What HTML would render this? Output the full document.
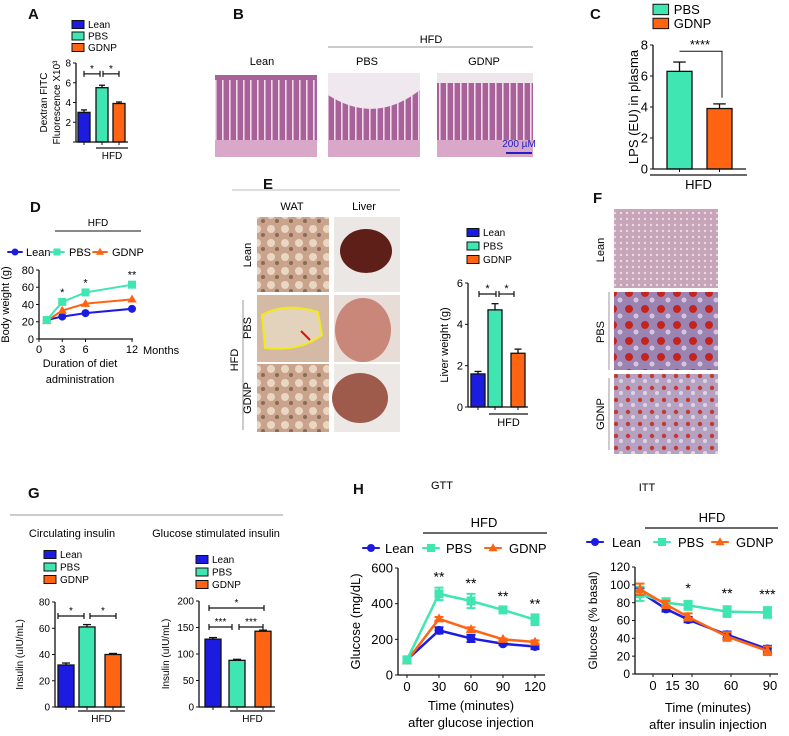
<!DOCTYPE html>
<html><head><meta charset="utf-8"><style>
body{margin:0;background:#fff}
svg{display:block;font-family:"Liberation Sans",Arial,sans-serif}
</style></head><body>
<svg id="fig" width="789" height="736" viewBox="0 0 789 736" xmlns="http://www.w3.org/2000/svg">
<defs>
<pattern id="villi" width="7" height="80" patternUnits="userSpaceOnUse"><rect width="7" height="80" fill="#a7629a"/><rect x="5" width="1.6" height="60" fill="#f1d8ea"/></pattern>
<pattern id="fat" width="14" height="14" patternUnits="userSpaceOnUse"><rect width="14" height="14" fill="#c9a38c"/><circle cx="5" cy="5" r="4" fill="#e9d7c3"/><circle cx="11" cy="11" r="2" fill="#8a6a58"/></pattern>
<pattern id="oro" width="16" height="16" patternUnits="userSpaceOnUse"><rect width="16" height="16" fill="#9b84b3"/><circle cx="5" cy="5" r="4" fill="#c5241d"/><circle cx="12" cy="12" r="2.5" fill="#d6c6dc"/></pattern>
<pattern id="oro2" width="12" height="12" patternUnits="userSpaceOnUse"><rect width="12" height="12" fill="#b5a2c2"/><circle cx="4" cy="4" r="2.2" fill="#c5382d"/><circle cx="9" cy="9" r="2" fill="#e0d4e4"/></pattern>
<pattern id="lv" width="6" height="6" patternUnits="userSpaceOnUse"><rect width="6" height="6" fill="#c7a5b9"/><circle cx="3" cy="3" r="1.2" fill="#ead8e2"/></pattern>
</defs>
<g font-weight="bold" font-size="15" fill="#111">
<text x="28" y="19">A</text><text x="233" y="19">B</text><text x="590" y="19">C</text>
<text x="30" y="212">D</text><text x="263" y="189">E</text><text x="593" y="203">F</text>
<text x="28" y="498">G</text><text x="353" y="494">H</text>
</g>
<g font-size="11">
<text x="431" y="43" text-anchor="middle">HFD</text>
<line x1="328" y1="47" x2="533" y2="47" stroke="#999" stroke-width="1"/>
<text x="262" y="65" text-anchor="middle">Lean</text><text x="367" y="65" text-anchor="middle">PBS</text><text x="484" y="65" text-anchor="middle">GDNP</text>
<rect x="215" y="75" width="102" height="82" fill="url(#villi)"/>
<rect x="215" y="140" width="102" height="17" fill="#d9a8c8"/>
<rect x="328" y="73" width="92" height="84" fill="url(#villi)"/>
<path d="M328 73 H420 V90 Q375 125 328 95 Z" fill="#efe8ee"/>
<rect x="328" y="140" width="92" height="17" fill="#d9a8c8"/>
<rect x="437" y="73" width="96" height="84" fill="url(#villi)"/>
<rect x="437" y="73" width="96" height="10" fill="#efe6ec"/>
<rect x="437" y="140" width="96" height="17" fill="#d9a8c8"/>
<text x="519" y="147" text-anchor="middle" fill="#2020c0" font-size="10">200 µM</text>
<line x1="506" y1="153" x2="532" y2="153" stroke="#2020c0" stroke-width="2"/>
</g>
<g font-size="11">
<line x1="232" y1="190" x2="400" y2="190" stroke="#bbb"/>
<text x="292" y="210" text-anchor="middle">WAT</text><text x="364" y="210" text-anchor="middle">Liver</text>
<rect x="257" y="217" width="72" height="75" fill="url(#fat)"/>
<rect x="334" y="217" width="66" height="75" fill="#ebe7e4"/><ellipse cx="366" cy="251" rx="26" ry="22" fill="#5e1f18"/>
<rect x="257" y="295" width="72" height="67" fill="#d4b9a4"/>
<path d="M262 315 Q285 302 318 312 L322 335 Q300 352 265 348 Z" fill="#e3d3bd" stroke="#f2ea18" stroke-width="2"/>
<line x1="310" y1="340" x2="301" y2="331" stroke="#e01010" stroke-width="2"/>
<rect x="334" y="295" width="66" height="67" fill="#e8dcd6"/><ellipse cx="363" cy="330" rx="28" ry="32" fill="#c9877a"/>
<rect x="257" y="364" width="72" height="68" fill="url(#fat)"/>
<rect x="334" y="364" width="66" height="68" fill="#ece8e6"/><ellipse cx="360" cy="398" rx="28" ry="25" fill="#9e5a4a"/>
<text transform="translate(251,255) rotate(-90)" text-anchor="middle">Lean</text>
<text transform="translate(251,328) rotate(-90)" text-anchor="middle">PBS</text>
<text transform="translate(251,398) rotate(-90)" text-anchor="middle">GDNP</text>
<text transform="translate(238,360) rotate(-90)" text-anchor="middle">HFD</text>
<line x1="243" y1="300" x2="243" y2="430" stroke="#999"/>
</g>
<g font-size="11">
<rect x="614" y="209" width="104" height="79" fill="url(#lv)"/>
<rect x="614" y="292" width="104" height="78" fill="url(#oro)"/>
<rect x="614" y="374" width="104" height="80" fill="url(#oro2)"/>
<text transform="translate(604,250) rotate(-90)" text-anchor="middle">Lean</text>
<text transform="translate(604,332) rotate(-90)" text-anchor="middle">PBS</text>
<text transform="translate(604,414) rotate(-90)" text-anchor="middle">GDNP</text>
<line x1="609" y1="292" x2="609" y2="370" stroke="#999"/><line x1="609" y1="378" x2="609" y2="450" stroke="#999"/>
</g>
<g font-size="11">
<line x1="10" y1="515" x2="283" y2="515" stroke="#999"/>
<text x="72" y="537" text-anchor="middle">Circulating insulin</text>
<text x="216" y="537" text-anchor="middle">Glucose stimulated insulin</text>
</g>
<g font-size="11">
<text x="442" y="489" text-anchor="middle">GTT</text><text x="647" y="491" text-anchor="middle">ITT</text>
</g>
<g id="charts"></g>
</svg>
<script>
// ---- data ----
const groups3 = ['Lean','PBS','GDNP'];
const dextranVals = [3.0, 5.5, 3.9];
const dextranErr = [0.25, 0.25, 0.15];
const lpsGroups = ['PBS','GDNP'];
const lpsVals = [6.3, 3.9];
const lpsErr = [0.6, 0.3];
const liverVals = [1.6, 4.7, 2.6];
const liverErr = [0.12, 0.3, 0.2];
const circInsVals = [32, 61, 40];
const circInsErr = [1.5, 1.8, 0.8];
const gsInsVals = [128, 88, 143];
const gsInsErr = [3, 2, 2];
const bwMonths = [1, 3, 6, 12];
const bwLean = [22, 26, 30, 35];
const bwPBS = [22, 43, 54, 63];
const bwGDNP = [21, 33, 41, 46];
const bwStars = ['', '*', '*', '**'];
const gttTimes = [0, 30, 60, 90, 120];
const gttLean = [85, 250, 205, 175, 160];
const gttPBS = [85, 455, 415, 365, 310];
const gttGDNP = [80, 315, 255, 200, 185];
const gttErrPBS = [10, 35, 40, 15, 30];
const gttStars = ['', '**', '**', '**', '**'];
const ittTimes = [-10, 10, 27, 57, 88];
const ittLean = [92, 73, 61, 44, 28];
const ittPBS = [90, 80, 77, 70, 69];
const ittGDNP = [95, 78, 64, 42, 26];
const ittErr = [8, 5, 5, 6, 6];
const ittStars = ['', '', '*', '**', '***'];
const ticksA = [2, 4, 6, 8];
const ticksC = [0, 2, 4, 6, 8];
const ticksE = [0, 2, 4, 6];
const ticksG1 = [0, 20, 40, 60, 80];
const ticksG2 = [0, 50, 100, 150, 200];
const ticksD = [0, 20, 40, 60, 80];
const ticksDx = [0, 3, 6, 12];
const ticksGTT = [0, 200, 400, 600];
const ticksGTTx = [0, 30, 60, 90, 120];
const ticksITT = [0, 20, 40, 60, 80, 100, 120];
const ticksITTx = [0, 15, 30, 60, 90];

const COL = {Lean:'#1c1ce0', PBS:'#3fe6b2', GDNP:'#ff6412'};
const NS = 'http://www.w3.org/2000/svg';
const root = document.getElementById('charts');
function mk(parent, tag, attrs, name, text){
  const el = document.createElementNS(NS, tag);
  for (const k in attrs) el.setAttribute(k, attrs[k]);
  
  
  if (text !== undefined) el.textContent = text;
  parent.appendChild(el);
  return el;
}
function lin(d0,d1,r0,r1){ return v => r0 + (v-d0)*(r1-r0)/(d1-d0); }

function yAxis(g, x, y, ticks, fs, lab, labX){
  mk(g,'line',{x1:x,y1:y(ticks[ticks.length-1]),x2:x,y2:y(0),stroke:'#111','stroke-width':1.3},'y-axis-line');
  ticks.forEach(t=>{
    mk(g,'line',{x1:x-3,y1:y(t),x2:x,y2:y(t),stroke:'#111'},'y-tick');
    mk(g,'text',{x:x-5,y:y(t)+fs*0.35,'text-anchor':'end','font-size':fs},'y-tick-label',String(t));
  });
  if (lab){
    const mid=(y(ticks[ticks.length-1])+y(0))/2;
    lab.forEach((l,i)=>mk(g,'text',{transform:`translate(${labX[i]},${mid}) rotate(-90)`,'text-anchor':'middle','font-size':fs},'y-axis-title',l));
  }
}
function legendBoxes(g, x, y0, dy, names, fs){
  names.forEach((n,i)=>{
    mk(g,'rect',{x:x,y:y0+i*dy-fs*0.75,width:fs*1.2,height:fs*0.8,fill:COL[n],stroke:'#111','stroke-width':1},'legend-swatch-'+n.toLowerCase());
    mk(g,'text',{x:x+fs*1.6,y:y0+i*dy,'font-size':fs},'legend-entry-'+n.toLowerCase(),n);
  });
}
function bars(g, names, vals, errs, xs, w, y, xAxisX1, xAxisX2){
  names.forEach((n,i)=>{
    const top=y(vals[i]), et=y(vals[i]+errs[i]), cx=xs[i]+w/2;
    mk(g,'line',{x1:cx,y1:et,x2:cx,y2:top,stroke:'#111','stroke-width':1.3},'error-bar-'+n.toLowerCase());
    mk(g,'line',{x1:cx-w*0.25,y1:et,x2:cx+w*0.25,y2:et,stroke:'#111','stroke-width':1.3},'error-cap-'+n.toLowerCase());
    mk(g,'rect',{x:xs[i],y:top,width:w,height:y(0)-top,fill:COL[n],stroke:'#111','stroke-width':1.3},'bar-'+n.toLowerCase());
    mk(g,'line',{x1:cx,y1:y(0),x2:cx,y2:y(0)+3,stroke:'#111'},'x-tick');
  });
  mk(g,'line',{x1:xAxisX1,y1:y(0),x2:xAxisX2,y2:y(0),stroke:'#111','stroke-width':1.3},'x-axis-line');
}
function bracket(g, x1, x2, yy, stars, fs){
  mk(g,'line',{x1:x1,y1:yy,x2:x2,y2:yy,stroke:'#111','stroke-width':1.2},'significance-bracket');
  mk(g,'line',{x1:x1,y1:yy-3,x2:x1,y2:yy+3,stroke:'#111','stroke-width':1.2},'bracket-end');
  mk(g,'line',{x1:x2,y1:yy-3,x2:x2,y2:yy+3,stroke:'#111','stroke-width':1.2},'bracket-end');
  mk(g,'text',{x:(x1+x2)/2,y:yy-2,'text-anchor':'middle','font-size':fs},'significance-stars',stars);
}
function hfd(g, x1, x2, yy, fs){
  mk(g,'line',{x1:x1,y1:yy,x2:x2,y2:yy,stroke:'#111','stroke-width':1.2},'hfd-line');
  mk(g,'text',{x:(x1+x2)/2,y:yy+fs+1,'text-anchor':'middle','font-size':fs},'hfd-label','HFD');
}

// ---- Panel A ----
(function(){
  const g = mk(root,'g',{},'panel-a-dextran-chart');
  const y = lin(0,8,142,63);
  legendBoxes(g,72,28,11.5,groups3,10);
  yAxis(g,76,y,ticksA,10,['Dextran FITC','Fluorescence X10³'],[47,60]);
  mk(g,'line',{x1:73,y1:y(0),x2:76,y2:y(0),stroke:'#111'},'y-tick');
  bars(g,groups3,dextranVals,dextranErr,[78,96,113],12,y,76,128);
  bracket(g,84,100,y(6.9),'*',10); bracket(g,103,119,y(6.9),'*',10);
  hfd(g,96,128,148,10);
})();
// ---- Panel C ----
(function(){
  const g = mk(root,'g',{},'panel-c-lps-chart');
  const y = lin(0,8,169,45);
  legendBoxes(g,653,14,14,lpsGroups,13);
  yAxis(g,653,y,ticksC,13,['LPS (EU) in plasma'],[638]);
  bars(g,lpsGroups,lpsVals,lpsErr,[667,707],25,y,653,746);
  mk(g,'path',{d:`M679.5 ${y(7.6)} H722 V${y(4.6)}`,fill:'none',stroke:'#111','stroke-width':1},'significance-bracket');
  mk(g,'text',{x:700,y:y(7.6)-2,'text-anchor':'middle','font-size':13},'significance-stars','****');
  hfd(g,650,747,175,13);
})();
// ---- Panel E liver weight ----
(function(){
  const g = mk(root,'g',{},'panel-e-liver-weight-chart');
  const y = lin(0,6,407,283);
  legendBoxes(g,467,236,13.5,groups3,10);
  yAxis(g,468,y,ticksE,11,['Liver weight (g)'],[448]);
  bars(g,groups3,liverVals,liverErr,[471,488,511],14,y,468,528);
  bracket(g,479,496,294,'*',11); bracket(g,499,514,294,'*',11);
  hfd(g,489,528,414,11);
})();
// ---- Panel G ----
(function(){
  const g = mk(root,'g',{},'panel-g-circulating-insulin-chart');
  const y = lin(0,80,707,602);
  legendBoxes(g,44,558,12.5,groups3,10);
  yAxis(g,55,y,ticksG1,10,['Insulin (uIU/mL)'],[23]);
  bars(g,groups3,circInsVals,circInsErr,[58,79,105],16,y,55,125);
  bracket(g,58,84,616,'*',10); bracket(g,90,116,616,'*',10);
  hfd(g,78,125,711,10);
})();
(function(){
  const g = mk(root,'g',{},'panel-g-glucose-stimulated-insulin-chart');
  const y = lin(0,200,707,601);
  legendBoxes(g,196,563,12.5,groups3,10);
  yAxis(g,199,y,ticksG2,10,['Insulin (uIU/mL)'],[169]);
  bars(g,groups3,gsInsVals,gsInsErr,[205,229,255],16,y,199,275);
  bracket(g,209,232,627,'***',10); bracket(g,239,263,627,'***',10);
  bracket(g,209,264,608,'*',10);
  hfd(g,230,275,711,10);
})();

// ---- line charts ----
function marker(g, n, cx, cy, r){
  if (n==='Lean') mk(g,'circle',{cx:cx,cy:cy,r:r,fill:COL[n]},'point-lean');
  else if (n==='PBS') mk(g,'rect',{x:cx-r,y:cy-r,width:2*r,height:2*r,fill:COL[n]},'point-pbs');
  else mk(g,'path',{d:`M${cx} ${cy-r*1.2} L${cx+r*1.15} ${cy+r*0.8} L${cx-r*1.15} ${cy+r*0.8} Z`,fill:COL[n]},'point-gdnp');
}
function series(g, n, xs, vs, errs, x, y, r, sw){
  mk(g,'polyline',{points:xs.map((t,i)=>x(t)+','+y(vs[i])).join(' '),fill:'none',stroke:COL[n],'stroke-width':sw},'line-'+n.toLowerCase());
  xs.forEach((t,i)=>{
    if (errs){
      mk(g,'line',{x1:x(t),y1:y(vs[i]-errs[i]),x2:x(t),y2:y(vs[i]+errs[i]),stroke:COL[n],'stroke-width':2},'error-bar-'+n.toLowerCase());
      mk(g,'line',{x1:x(t)-r,y1:y(vs[i]+errs[i]),x2:x(t)+r,y2:y(vs[i]+errs[i]),stroke:COL[n],'stroke-width':2},'error-cap-'+n.toLowerCase());
      mk(g,'line',{x1:x(t)-r,y1:y(vs[i]-errs[i]),x2:x(t)+r,y2:y(vs[i]-errs[i]),stroke:COL[n],'stroke-width':2},'error-cap-'+n.toLowerCase());
    }
    marker(g,n,x(t),y(vs[i]),r);
  });
}
function lineLegend(g, items, yy, fs, r){
  items.forEach(it=>{
    mk(g,'line',{x1:it[1]-r*2.2,y1:yy,x2:it[1]+r*2.2,y2:yy,stroke:COL[it[0]],'stroke-width':2},'legend-line-'+it[0].toLowerCase());
    marker(g,it[0],it[1],yy,r);
    mk(g,'text',{x:it[2],y:yy+fs*0.37,'font-size':fs},'legend-entry-'+it[0].toLowerCase(),it[0]);
  });
}
function xAxis(g, x, y0, x1, x2, ticks, fs){
  mk(g,'line',{x1:x1,y1:y0,x2:x2,y2:y0,stroke:'#111','stroke-width':1.3},'x-axis-line');
  ticks.forEach(t=>{
    mk(g,'line',{x1:x(t),y1:y0,x2:x(t),y2:y0+3,stroke:'#111'},'x-tick');
    mk(g,'text',{x:x(t),y:y0+fs+3,'text-anchor':'middle','font-size':fs},'x-tick-label',String(t));
  });
}
// Panel D
(function(){
  const g = mk(root,'g',{},'panel-d-body-weight-chart');
  const x = lin(0,12,39,132), y = lin(0,80,339,270);
  mk(g,'text',{x:98,y:226,'text-anchor':'middle','font-size':10},'hfd-label','HFD');
  mk(g,'line',{x1:55,y1:231,x2:141,y2:231,stroke:'#111'},'hfd-line');
  lineLegend(g,[['Lean',15,26],['PBS',57,69],['GDNP',100,112]],252,11,3.5);
  yAxis(g,39,y,ticksD,11,['Body weight (g)'],[9]);
  xAxis(g,x,339,39,133,ticksDx,11);
  series(g,'Lean',bwMonths,bwLean,null,x,y,4,2);
  series(g,'GDNP',bwMonths,bwGDNP,null,x,y,4,2);
  series(g,'PBS',bwMonths,bwPBS,null,x,y,4,2);
  bwMonths.forEach((m,i)=>{ if(bwStars[i]) mk(g,'text',{x:x(m),y:y(bwPBS[i])-6,'text-anchor':'middle','font-size':11},'significance-stars',bwStars[i]); });
  mk(g,'text',{x:143,y:354,'font-size':11},'x-unit-label','Months');
  mk(g,'text',{x:80,y:367,'text-anchor':'middle','font-size':11},'x-axis-title','Duration of diet');
  mk(g,'text',{x:80,y:383,'text-anchor':'middle','font-size':11},'x-axis-title','administration');
})();
// GTT
(function(){
  const g = mk(root,'g',{},'panel-h-gtt-chart');
  const x = lin(0,120,407,535), y = lin(0,600,675,568);
  mk(g,'text',{x:484,y:527,'text-anchor':'middle','font-size':13},'hfd-label','HFD');
  mk(g,'line',{x1:423,y1:533,x2:547,y2:533,stroke:'#111','stroke-width':1.2},'hfd-line');
  lineLegend(g,[['Lean',371,385],['PBS',431,446],['GDNP',493,509]],548,13,4);
  yAxis(g,398,y,ticksGTT,13,['Glucose (mg/dL)'],[360]);
  xAxis(g,x,675,398,545,ticksGTTx,13);
  series(g,'Lean',gttTimes,gttLean,gttErrPBS.map(e=>e*0.5),x,y,4.5,2.5);
  series(g,'GDNP',gttTimes,gttGDNP,gttErrPBS.map(e=>e*0.3),x,y,4.5,2.5);
  series(g,'PBS',gttTimes,gttPBS,gttErrPBS,x,y,4.5,2.5);
  gttTimes.forEach((t,i)=>{ if(gttStars[i]) mk(g,'text',{x:x(t),y:y(gttPBS[i]+gttErrPBS[i])-6,'text-anchor':'middle','font-size':14},'significance-stars',gttStars[i]); });
  mk(g,'text',{x:471,y:710,'text-anchor':'middle','font-size':13},'x-axis-title','Time (minutes)');
  mk(g,'text',{x:471,y:727,'text-anchor':'middle','font-size':13},'x-axis-subtitle','after glucose injection');
})();
// ITT
(function(){
  const g = mk(root,'g',{},'panel-h-itt-chart');
  const x = lin(0,90,653,770), y = lin(0,120,674,567);
  mk(g,'text',{x:712,y:522,'text-anchor':'middle','font-size':13},'hfd-label','HFD');
  mk(g,'line',{x1:645,y1:528,x2:778,y2:528,stroke:'#111','stroke-width':1.2},'hfd-line');
  lineLegend(g,[['Lean',595,612],['PBS',662,678],['GDNP',720,736]],542,13,4);
  yAxis(g,635,y,ticksITT,12,['Glucose (% basal)'],[597]);
  xAxis(g,x,674,635,778,ticksITTx,13);
  series(g,'Lean',ittTimes,ittLean,ittErr.map(e=>e*0.6),x,y,4.5,2.5);
  series(g,'PBS',ittTimes,ittPBS,ittErr,x,y,4.5,2.5);
  series(g,'GDNP',ittTimes,ittGDNP,ittErr.map(e=>e*0.8),x,y,4.5,2.5);
  ittTimes.forEach((t,i)=>{ if(ittStars[i]) mk(g,'text',{x:x(t),y:y(ittPBS[i]+ittErr[i])-8,'text-anchor':'middle','font-size':14},'significance-stars',ittStars[i]); });
  mk(g,'text',{x:708,y:712,'text-anchor':'middle','font-size':13},'x-axis-title','Time (minutes)');
  mk(g,'text',{x:708,y:729,'text-anchor':'middle','font-size':13},'x-axis-subtitle','after insulin injection');
})();
</script>
</body></html>
